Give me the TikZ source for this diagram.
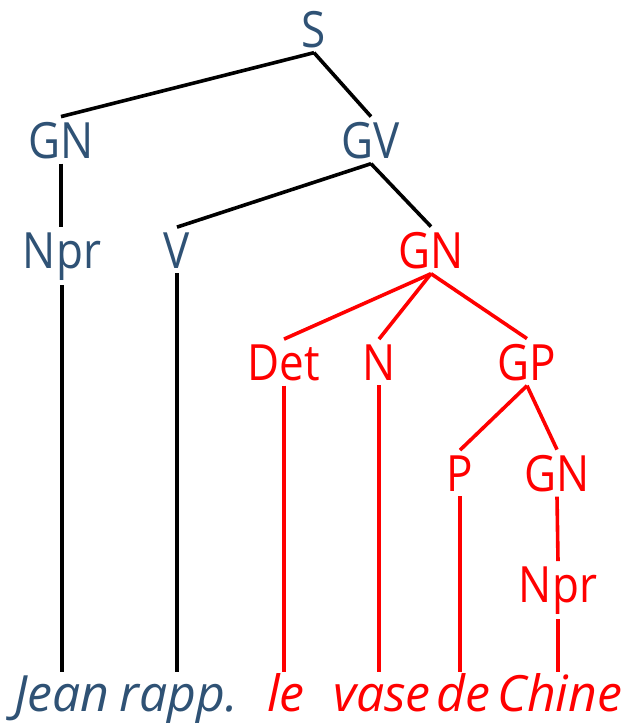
\documentclass[tikz,border=0pt]{standalone}
\usepackage{fontspec}
\setmainfont{Open Sans}[UprightFeatures={FakeStretch=0.88}]
\definecolor{tblue}{HTML}{2F5275}
\definecolor{tred}{RGB}{255,0,0}
\begin{document}
\begin{tikzpicture}[x=1pt,y=-1pt,
  lab/.style={anchor=base,inner xsep=0pt,inner ysep=5pt,font=\fontsize{50pt}{60pt}\selectfont},
  bl/.style={lab,text=tblue},
  rd/.style={lab,text=tred},
  word/.style={anchor=base,inner sep=0pt,font=\fontsize{50pt}{60pt}\selectfont\itshape},
  bw/.style={word,text=tblue},
  rw/.style={word,text=tred},
  bk/.style={draw=black,line width=3.6pt},
  rl/.style={draw=tred,line width=3.6pt}]
\useasboundingbox (0,0) rectangle (626,723);
% nodes
\node[bl] (S) at (314,47) {S};
\node[bl] (GN1) at (61,158) {GN};
\node[bl] (GV) at (371,158) {GV};
\node[bl] (Npr1) at (62,268) {Npr};
\node[bl] (V) at (177,268) {V};
\node[rd] (GN2) at (431,268) {GN};
\node[rd] (Det) at (284,380) {Det};
\node[rd] (N) at (379,380) {N};
\node[rd] (GP) at (527,380) {GP};
\node[rd] (P) at (460,491) {P};
\node[rd] (GN3) at (557,491) {GN};
\node[rd] (Npr2) at (558,602) {Npr};
\node[bw] (w1) at (62,711) {Jean};
\node[bw] (w2) at (179,711) {rapp.};
\node[rw] (w3) at (286,711) {le};
\node[rw] (w4) at (382,711) {vase};
\node[rw] (w5) at (463,711) {de};
\node[rw] (w6) at (560,711) {Chine};
\coordinate (wtop) at (0,672);
% connectors
\draw[bk] (S.south) -- (GN1.north);
\draw[bk] (S.south) -- (GV.north);
\draw[bk] (GN1.south) -- (GN1.south |- Npr1.north);
\draw[bk] (GV.south) -- (V.north);
\draw[bk] (GV.south) -- (GN2.north);
\draw[bk] (Npr1.south) -- (Npr1.south |- wtop);
\draw[bk] (V.south) -- (V.south |- wtop);
\draw[rl] (GN2.south) -- (Det.north);
\draw[rl] (GN2.south) -- (N.north);
\draw[rl] (GN2.south) -- (GP.north);
\draw[rl] (Det.south) -- (Det.south |- wtop);
\draw[rl] (N.south) -- (N.south |- wtop);
\draw[rl] (GP.south) -- (P.north);
\draw[rl] (GP.south) -- (GN3.north);
\draw[rl] (P.south) -- (P.south |- wtop);
\draw[rl] (GN3.south) -- (Npr2.north);
\draw[rl] (Npr2.south) -- (Npr2.south |- wtop);
\end{tikzpicture}
\end{document}
